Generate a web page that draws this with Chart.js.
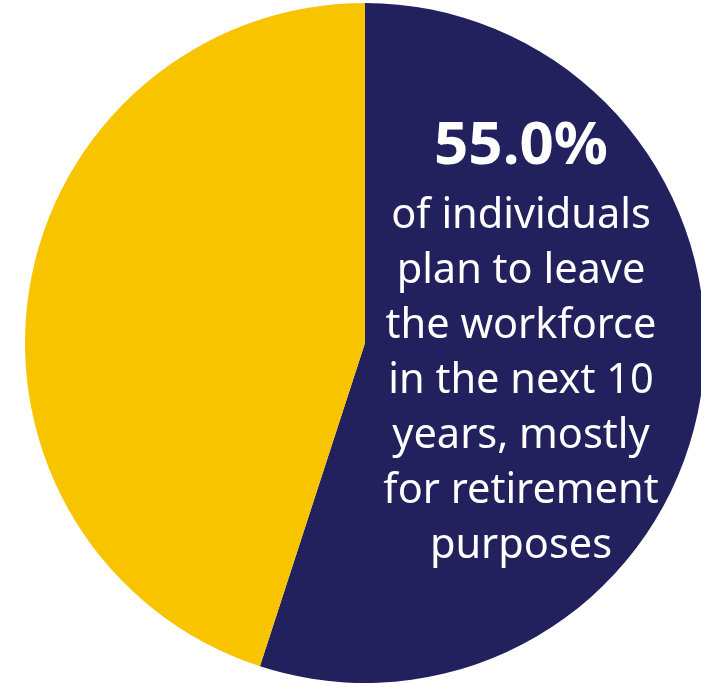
<!DOCTYPE html>
<html>
<head>
<meta charset="utf-8">
<script src="https://cdn.jsdelivr.net/npm/chart.js@4"></script>
<style>
  html, body { margin: 0; padding: 0; background: #fff; overflow: hidden; }
  #wrap { position: absolute; left: 0; top: 0; width: 720px; height: 684px; }
</style>
</head>
<body>
<div id="wrap"><canvas id="pie" width="720" height="684"></canvas></div>
<script>
"use strict";

const labels = ["Leaving workforce", "Staying"];
const shares = [55.0, 45.0];
const colors = ["#22215e", "#f8c400"];
const headline = "55.0%";
const caption = [
  "of individuals",
  "plan to leave",
  "the workforce",
  "in the next 10",
  "years, mostly",
  "for retirement",
  "purposes",
];

// callout text inside the navy slice
const calloutPlugin = {
  id: "callout",
  afterDatasetsDraw(chart) {
    const ctx = chart.ctx;
    const x = 521;
    ctx.save();
    ctx.fillStyle = "#ffffff";
    ctx.textAlign = "center";
    ctx.textBaseline = "alphabetic";
    ctx.font = "bold 60px 'Noto Sans'";
    ctx.fillText(headline, x, 164);
    ctx.font = "41.5px 'Noto Sans'";
    caption.forEach((line, i) => ctx.fillText(line, x, 228 + i * 55));
    ctx.restore();
  },
};

new Chart(document.getElementById("pie"), {
  type: "pie",
  data: {
    labels,
    datasets: [{ data: shares, backgroundColor: colors, borderWidth: 0 }],
  },
  options: {
    responsive: false,
    animation: false,
    layout: { padding: { left: 25, top: 3, right: 15, bottom: 1 } },
    plugins: { legend: { display: false }, tooltip: { enabled: false } },
  },
  plugins: [calloutPlugin],
});
</script>
</body>
</html>
